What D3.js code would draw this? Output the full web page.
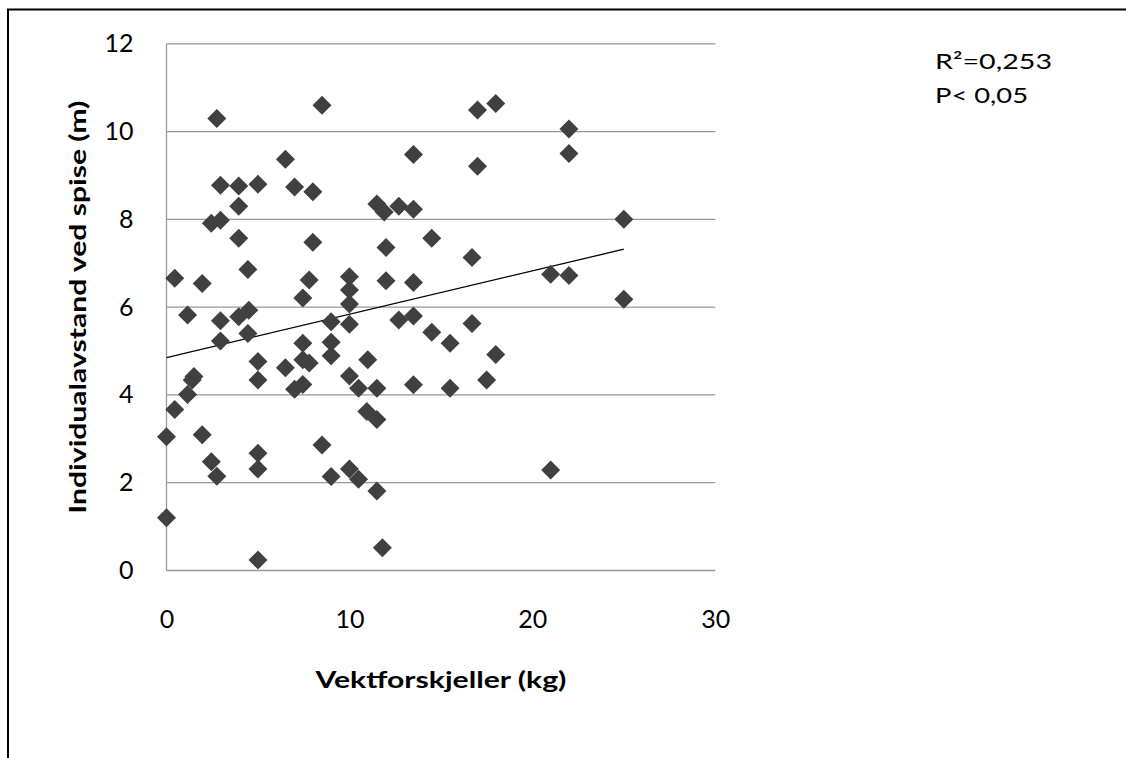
<!DOCTYPE html>
<html>
<head>
<meta charset="utf-8">
<script src="https://cdn.jsdelivr.net/npm/d3@7"></script>
<style>
  html, body { margin: 0; padding: 0; background: #fff; }
  svg { display: block; }
  text { font-family: Lato, "Open Sans", sans-serif; fill: #000; }
</style>
</head>
<body>
<script>
// ---- data ----
const xVals = [0, 0, 0.45, 0.45, 1.15, 1.15, 1.4, 1.5, 1.95, 1.95,
  2.45, 2.45, 2.75, 2.75, 2.95, 2.95, 2.95, 2.95, 3.95, 3.95,
  3.95, 3.95, 4.45, 4.5, 4.45, 5, 5, 5, 5, 5,
  5, 6.5, 6.5, 7, 7, 7.45, 7.45, 7.45, 7.45, 7.8,
  7.8, 8, 8, 8.5, 8.5, 9, 9, 9, 9, 10,
  10, 10, 10, 10, 10, 10.5, 10.5, 11, 10.95, 11.5,
  11.5, 11.5, 11.5, 11.9, 12, 12, 11.8, 12.7, 12.7, 13.5,
  13.5, 13.5, 13.5, 13.5, 14.5, 14.5, 15.5, 15.5, 16.7, 16.7,
  17, 17, 17.5, 18, 18, 21, 21, 22, 22, 22,
  25, 25];
const yVals = [3.05, 1.20, 6.66, 3.67, 5.82, 4.01, 4.34, 4.42, 6.54, 3.09,
  7.91, 2.48, 10.30, 2.15, 8.78, 7.98, 5.69, 5.23, 8.76, 8.30,
  7.57, 5.78, 6.86, 5.93, 5.40, 8.80, 4.76, 4.34, 2.67, 2.31,
  0.24, 9.37, 4.62, 8.74, 4.13, 6.21, 5.18, 4.80, 4.24, 6.62,
  4.73, 8.63, 7.48, 10.60, 2.86, 5.67, 5.20, 4.89, 2.14, 6.69,
  6.39, 6.07, 5.61, 4.43, 2.31, 4.15, 2.08, 4.80, 3.62, 8.35,
  4.15, 3.44, 1.81, 8.17, 7.36, 6.60, 0.52, 8.30, 5.71, 9.48,
  8.23, 6.56, 5.80, 4.23, 7.57, 5.43, 5.18, 4.15, 7.13, 5.63,
  10.49, 9.21, 4.34, 10.64, 4.92, 6.75, 2.29, 10.06, 9.50, 6.72,
  8.00, 6.18];
const trendX = [0, 25];
const trendY = [4.85, 7.32];
const xTicks = [0, 10, 20, 30];
const yTicks = [0, 2, 4, 6, 8, 10, 12];
const xTitle = "Vektforskjeller (kg)";
const yTitle = "Individualavstand ved spise (m)";
const statLines = ["R\u00B2=0,253", "P< 0,05"];

// ---- layout ----
const W = 1126, H = 758;
const svg = d3.select("body").append("svg").attr("width", W).attr("height", H);

// outer frame (left and top visible)
svg.append("line").attr("x1", 8).attr("x2", 8).attr("y1", 9).attr("y2", H)
  .attr("stroke", "#000").attr("stroke-width", 2);
svg.append("line").attr("x1", 7).attr("x2", W).attr("y1", 9.5).attr("y2", 9.5)
  .attr("stroke", "#000").attr("stroke-width", 2);

const x = d3.scaleLinear().domain([0, 30]).range([166.5, 715.3]);
const y = d3.scaleLinear().domain([0, 12]).range([570.5, 43.8]);

// gridlines
svg.append("g").selectAll("line").data(yTicks).join("line")
  .attr("x1", x(0)).attr("x2", x(30))
  .attr("y1", d => y(d)).attr("y2", d => y(d))
  .attr("stroke", "#999").attr("stroke-width", 1.3);

// left axis line
svg.append("line").attr("x1", x(0)).attr("x2", x(0))
  .attr("y1", y(12)).attr("y2", y(0))
  .attr("stroke", "#999").attr("stroke-width", 1.3);

// y tick labels
const yAxis = d3.axisLeft(y).tickValues(yTicks).tickSize(0).tickPadding(0).tickFormat(d3.format("d"));
const gy = svg.append("g").attr("transform", `translate(${x(0) - 33},0)`).call(yAxis);
gy.select(".domain").remove();
gy.selectAll("text").attr("font-size", 25).attr("font-family", "Lato, sans-serif").attr("fill", "#000");

// x tick labels
const xAxis = d3.axisBottom(x).tickValues(xTicks).tickSize(0).tickPadding(0).tickFormat(d3.format("d"));
const gx = svg.append("g").attr("transform", `translate(0,${y(0) + 40})`).call(xAxis);
gx.select(".domain").remove();
gx.selectAll("text").attr("font-size", 25).attr("font-family", "Lato, sans-serif").attr("fill", "#000");

// trend line
const trend = trendX.map((v, i) => [v, trendY[i]]);
svg.append("path").datum(trend)
  .attr("d", d3.line().x(d => x(d[0])).y(d => y(d[1])))
  .attr("fill", "none").attr("stroke", "#000").attr("stroke-width", 1.3);

// diamonds
const r = 9.5;
const pts = xVals.map((v, i) => [v, yVals[i]]);
svg.append("g").selectAll("path").data(pts).join("path")
  .attr("d", `M0,${-r}L${r},0L0,${r}L${-r},0Z`)
  .attr("transform", d => `translate(${x(d[0])},${y(d[1])})`)
  .attr("fill", "#404040");

// axis titles
svg.append("text").attr("x", (x(0) + x(30)) / 2).attr("y", 688)
  .attr("text-anchor", "middle").attr("font-size", 23).attr("font-weight", "bold")
  .attr("textLength", 251).attr("lengthAdjust", "spacingAndGlyphs")
  .text(xTitle);
svg.append("text")
  .attr("transform", `translate(86,${(y(0) + y(12)) / 2}) rotate(-90)`)
  .attr("text-anchor", "middle").attr("font-size", 23).attr("font-weight", "bold")
  .attr("textLength", 413).attr("lengthAdjust", "spacingAndGlyphs")
  .text(yTitle);

// stats annotation
const statLen = [117, 93];
svg.append("g").selectAll("text").data(statLines).join("text")
  .attr("x", 935).attr("y", (d, i) => 69 + i * 34)
  .attr("font-size", 22)
  .attr("textLength", (d, i) => statLen[i]).attr("lengthAdjust", "spacingAndGlyphs")
  .text(d => d);
</script>
</body>
</html>
